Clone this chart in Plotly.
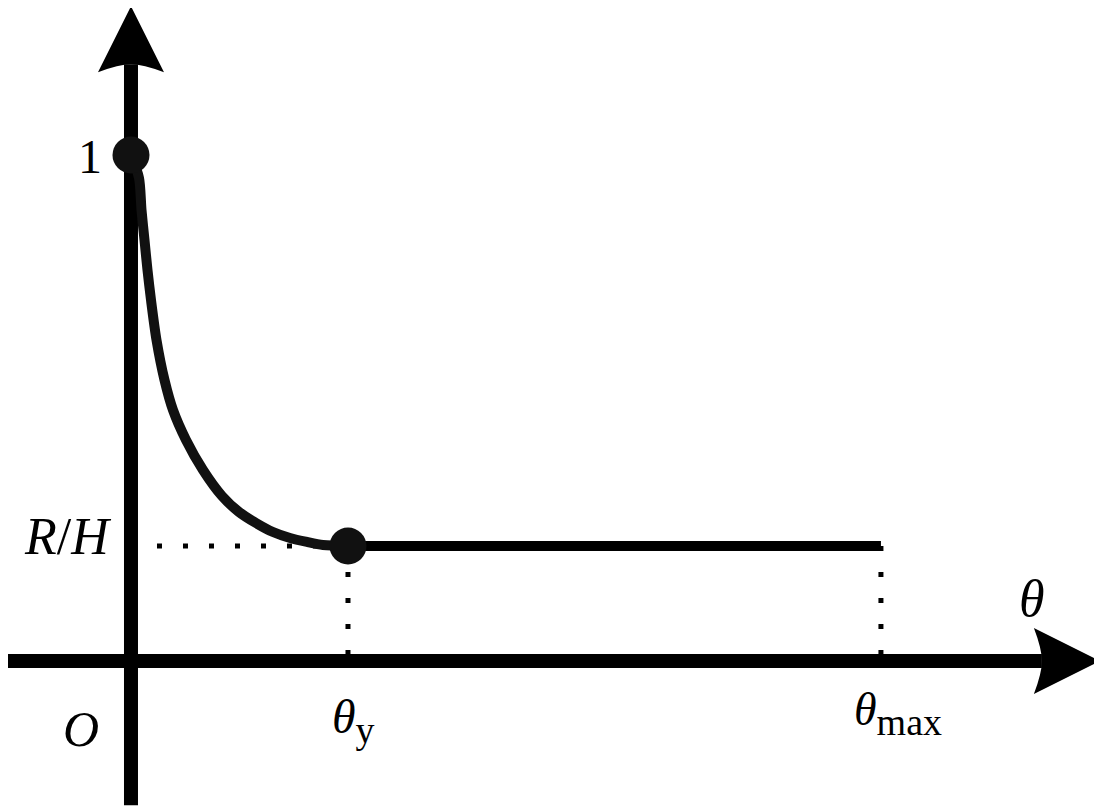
import plotly.graph_objects as go

# ---- data (normalised units: theta / theta_y , L_e / H) ----
theta_y = 1.0
theta_max = 3.456
R_H = 0.2273
curve_theta = [0.0, 0.0369, 0.0484, 0.0622, 0.0760, 0.0922, 0.1175, 0.1544, 0.1935, 0.2535,
               0.3318, 0.4194, 0.4977, 0.5760, 0.6544, 0.7327, 0.8111, 0.8848, 1.0]
curve_Le = [1.0, 0.9545, 0.8913, 0.8320, 0.7727, 0.7134, 0.6344, 0.5553, 0.4960, 0.4368,
            0.3775, 0.3261, 0.2945, 0.2727, 0.2549, 0.2431, 0.2352, 0.2292, 0.2273]
plateau_theta = [theta_y, theta_max]
plateau_Le = [R_H, R_H]
key_theta = [0.0, theta_y]
key_Le = [1.0, R_H]

# ---- layout constants (page body adds an 8px offset) ----
W, H = 1094, 801
x_range = [-0.5668, 4.4747]
y_range = [-0.2925, 1.2905]
xs = W / (x_range[1] - x_range[0])   # px per unit
ys = H / (y_range[1] - y_range[0])
x_axis_start, x_axis_tip = x_range[0], 4.465
y_axis_start, y_axis_tip = -0.285, 1.294
ink = "#111111"
serif = "Liberation Serif, Times New Roman, serif"

fig = go.Figure()

# dotted guide lines
dot = dict(color="black", width=5, dash="5px,21px")
fig.add_trace(go.Scatter(x=[0, theta_y], y=[R_H, R_H], mode="lines", line=dot, hoverinfo="skip"))
fig.add_trace(go.Scatter(x=[theta_y, theta_y], y=[R_H, 0], mode="lines", line=dot, hoverinfo="skip"))
fig.add_trace(go.Scatter(x=[theta_max, theta_max], y=[R_H, 0], mode="lines", line=dot, hoverinfo="skip"))

# curve and plateau
fig.add_trace(go.Scatter(x=curve_theta, y=curve_Le, mode="lines",
                         line=dict(color=ink, width=10, shape="spline", smoothing=0.8), hoverinfo="skip"))
fig.add_trace(go.Scatter(x=plateau_theta, y=plateau_Le, mode="lines",
                         line=dict(color="black", width=10), hoverinfo="skip"))

# axes (drawn as shapes)
fig.add_shape(type="line", x0=x_axis_start, x1=x_axis_tip - 58 / xs, y0=0, y1=0,
              line=dict(color="black", width=14), layer="below")
fig.add_shape(type="line", x0=0, x1=0, y0=y_axis_start, y1=y_axis_tip - 58 / ys,
              line=dict(color="black", width=14), layer="below")
fig.add_shape(type="path", xsizemode="pixel", ysizemode="pixel", xanchor=0, yanchor=y_axis_tip,
              path="M0,0 L-33,-66 Q-12,-58 0,-58 Q12,-58 33,-66 Z",
              fillcolor="black", line=dict(width=0), layer="below")
fig.add_shape(type="path", xsizemode="pixel", ysizemode="pixel", xanchor=x_axis_tip, yanchor=0,
              path="M0,0 L-66,33 Q-58,12 -58,0 Q-58,-12 -66,-33 Z",
              fillcolor="black", line=dict(width=0), layer="below")

# key points
fig.add_trace(go.Scatter(x=key_theta, y=key_Le, mode="markers",
                         marker=dict(size=37, color=ink, line=dict(width=0)), hoverinfo="skip"))

# labels
def ann(text, x, y, size, xanchor="center", yanchor="middle", xshift=0, yshift=0):
    fig.add_annotation(text=text, x=x, y=y, xref="x", yref="y", showarrow=False,
                       xanchor=xanchor, yanchor=yanchor, xshift=xshift, yshift=yshift,
                       font=dict(family=serif, size=size, color="black"))

def sub(t):
    return '<sub><span style="font-size:38px">' + t + '</span></sub>'

ann("1", 0, 1.0, 48, xanchor="right", xshift=-27, yshift=-2)
ann("<i>R</i>/<i>H</i>", 0, R_H, 52, xanchor="right", xshift=-18, yshift=9)
ann("<i>L</i>" + sub("e") + "/<i>H</i>", 0, y_axis_tip, 52, xanchor="left", xshift=44, yshift=-38)
ann("<i>O</i>", 0, 0, 50, xanchor="right", xshift=-30, yshift=-68)
ann("<i>θ</i>" + sub("y"), theta_y, 0, 48, xanchor="left", xshift=-18, yshift=-60)
ann("<i>θ</i>" + sub("max"), theta_max, 0, 46, xanchor="left", xshift=-29, yshift=-53)
ann("<i>θ</i>", x_axis_tip, 0, 52, xanchor="center", yshift=62, xshift=-68)

fig.update_layout(
    width=W, height=H, margin=dict(l=0, r=0, t=0, b=0),
    paper_bgcolor="white", plot_bgcolor="white", showlegend=False,
    xaxis=dict(range=x_range, visible=False, fixedrange=True),
    yaxis=dict(range=y_range, visible=False, fixedrange=True),
)
fig.write_html("out.html")
